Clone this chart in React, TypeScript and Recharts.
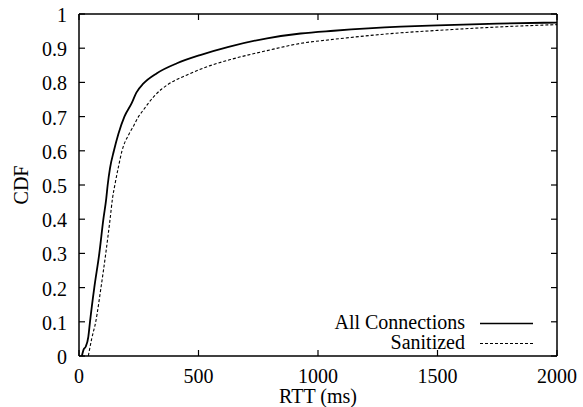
import React from 'react';
import { LineChart, Line, XAxis, YAxis, Legend, Label, CartesianGrid } from 'recharts';

const FONT = '"Liberation Serif", "Times New Roman", Times, serif';

// All Connections (solid)
const allRtt = [12, 20, 28, 39, 46, 64, 85, 102, 114, 120, 130, 146, 165, 190, 221, 240, 270, 326, 410, 507, 626, 787, 927, 1066, 1346, 1500, 1750, 2000];
const allCdf = [0, 0.02, 0.027, 0.056, 0.1, 0.2, 0.3, 0.4, 0.46, 0.5, 0.55, 0.6, 0.65, 0.7, 0.74, 0.77, 0.797, 0.827, 0.856, 0.88, 0.904, 0.929, 0.943, 0.951, 0.963, 0.967, 0.972, 0.975];

// Sanitized (dashed)
const sanRtt = [39, 53, 70, 92, 112, 130, 140, 150, 165, 180, 210, 230, 249, 270, 312, 345, 368, 452, 549, 640, 787, 927, 1066, 1346, 1500, 1750, 2000];
const sanCdf = [0, 0.05, 0.1, 0.2, 0.3, 0.4, 0.46, 0.5, 0.553, 0.6, 0.65, 0.675, 0.7, 0.72, 0.758, 0.78, 0.792, 0.822, 0.849, 0.868, 0.893, 0.914, 0.926, 0.945, 0.952, 0.962, 0.969];

const xTicks = [0, 500, 1000, 1500, 2000];
const yTicks = [0, 0.1, 0.2, 0.3, 0.4, 0.5, 0.6, 0.7, 0.8, 0.9, 1];

const seriesNames = ['All Connections', 'Sanitized'];

const allData = allRtt.map((x, i) => ({ x, y: allCdf[i] }));
const sanData = sanRtt.map((x, i) => ({ x, y: sanCdf[i] }));

// layout
const W = 583;
const H = 407;
const MARGIN = { top: 14, right: 26, bottom: 0, left: 0 };
const Y_AXIS_W = 79;
const X_AXIS_H = 51;
const PLOT_TOP = MARGIN.top;
const PLOT_RIGHT = W - MARGIN.right;
const TICK_LEN = 6;

const axisLineStyle = { stroke: '#000', strokeWidth: 1.5 };

const XTick = (props: any) => {
  const { x, y, payload } = props;
  return (
    <g>
      <line x1={x} x2={x} y1={y} y2={y - TICK_LEN} stroke="#000" strokeWidth={1.2} />
      <line x1={x} x2={x} y1={PLOT_TOP} y2={PLOT_TOP + TICK_LEN} stroke="#000" strokeWidth={1.2} />
      <text x={x} y={y + 27} textAnchor="middle" fill="#000" fontSize={20} fontFamily={FONT}>
        {payload.value}
      </text>
    </g>
  );
};

const YTick = (props: any) => {
  const { x, y, payload } = props;
  return (
    <g>
      <line x1={x} x2={x + TICK_LEN} y1={y} y2={y} stroke="#000" strokeWidth={1.2} />
      <line x1={PLOT_RIGHT} x2={PLOT_RIGHT - TICK_LEN} y1={y} y2={y} stroke="#000" strokeWidth={1.2} />
      <text x={x - 12} y={y + 8} textAnchor="end" fill="#000" fontSize={20} fontFamily={FONT}>
        {payload.value}
      </text>
    </g>
  );
};

const renderLegend = (props: any) => {
  const payload = props.payload || [];
  return (
    <div style={{ fontFamily: FONT, fontSize: 20, color: '#000' }}>
      {payload.map((e: any) => {
        const dashed = e.value === seriesNames[1];
        return (
          <div
            key={e.value}
            style={{ display: 'flex', alignItems: 'flex-start', justifyContent: 'flex-end', height: 20 }}
          >
            <span style={{ lineHeight: '20px', whiteSpace: 'nowrap' }}>{e.value}</span>
            <svg width={53} height={20} style={{ marginLeft: 15, display: 'block' }}>
              <line
                x1={0}
                x2={53}
                y1={11.5}
                y2={11.5}
                stroke="#000"
                strokeWidth={dashed ? 1 : 1.5}
                strokeDasharray={dashed ? '3 2' : undefined}
              />
            </svg>
          </div>
        );
      })}
    </div>
  );
};

export default function App() {
  return (
    <div style={{ position: 'absolute', left: 0, top: 0, background: '#fff' }}>
      <LineChart width={W} height={H} margin={MARGIN}>
        <CartesianGrid
          stroke="#000"
          strokeWidth={1.5}
          horizontalCoordinatesGenerator={(args: any) => [args.offset.top]}
          verticalCoordinatesGenerator={(args: any) => {
            const o = args.offset;
            const w = o.width != null ? o.width : args.width - o.left - o.right;
            return [o.left + w];
          }}
        />
        <XAxis
          dataKey="x"
          type="number"
          domain={[0, 2000]}
          ticks={xTicks}
          allowDataOverflow
          height={X_AXIS_H}
          tickSize={0}
          tickMargin={0}
          tickLine={false}
          tick={<XTick />}
          axisLine={axisLineStyle}
        >
          <Label
            content={(p: any) => {
              const vb = p.viewBox;
              return (
                <text
                  x={vb.x + vb.width / 2}
                  y={vb.y + 47}
                  textAnchor="middle"
                  fill="#000"
                  fontSize={20}
                  fontFamily={FONT}
                >
                  RTT (ms)
                </text>
              );
            }}
          />
        </XAxis>
        <YAxis
          type="number"
          domain={[0, 1]}
          ticks={yTicks}
          width={Y_AXIS_W}
          tickSize={0}
          tickMargin={0}
          tickLine={false}
          tick={<YTick />}
          axisLine={axisLineStyle}
        >
          <Label
            content={(p: any) => {
              const vb = p.viewBox;
              const cx = vb.x + 28;
              const cy = vb.y + vb.height / 2;
              return (
                <text
                  x={cx}
                  y={cy}
                  transform={`rotate(-90 ${cx} ${cy})`}
                  textAnchor="middle"
                  fill="#000"
                  fontSize={20}
                  fontFamily={FONT}
                >
                  CDF
                </text>
              );
            }}
          />
        </YAxis>
        <Legend
          layout="vertical"
          verticalAlign="middle"
          align="center"
          content={renderLegend}
          wrapperStyle={{ left: 273, top: 311.5, width: 260 }}
        />
        <Line
          name={seriesNames[0]}
          data={allData}
          dataKey="y"
          type="monotone"
          stroke="#000"
          strokeWidth={1.8}
          dot={false}
          isAnimationActive={false}
        />
        <Line
          name={seriesNames[1]}
          data={sanData}
          dataKey="y"
          type="monotone"
          stroke="#000"
          strokeWidth={1.1}
          strokeDasharray="3 2"
          dot={false}
          isAnimationActive={false}
        />
      </LineChart>
    </div>
  );
}
